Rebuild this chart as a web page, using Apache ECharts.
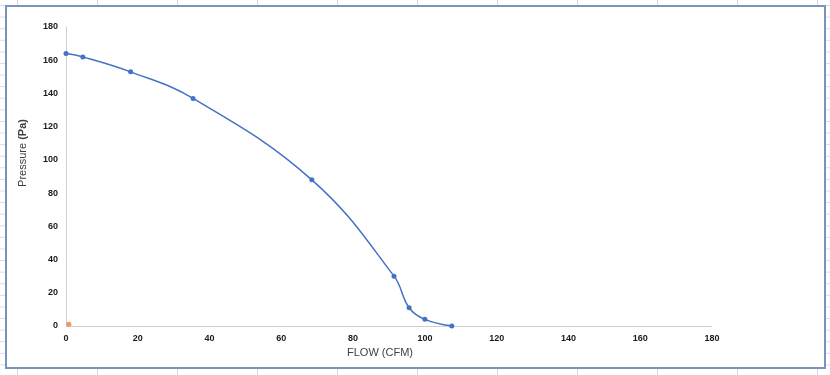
<!DOCTYPE html>
<html>
<head>
<meta charset="utf-8">
<script src="https://cdn.jsdelivr.net/npm/echarts@6/dist/echarts.min.js"></script>
<style>
  html, body { margin: 0; padding: 0; }
  body {
    width: 830px; height: 375px; overflow: hidden; position: relative;
    background-color: #ffffff;
    background-image:
      linear-gradient(to right, #d6d6d6 1px, transparent 1px),
      linear-gradient(to bottom, #dcdcdc 1px, transparent 1px);
    background-size: 80px 11.6px, 80px 11.6px;
    background-position: 17px 0, 0 5px;
  }
  #box {
    position: absolute; left: 5px; top: 5px; width: 821px; height: 364px;
    box-sizing: border-box; border: 2px solid #7a93bd; background: #ffffff;
  }
  #chart { position: absolute; left: 0; top: 0; width: 817px; height: 360px; }
</style>
</head>
<body>
<div id="box"><div id="chart"></div></div>
<script>
// Data
const flow = [0, 4.7, 18, 35.4, 68.5, 91.4, 95.6, 100, 107.5];
const pressure = [164, 162, 153, 137, 88, 30, 11, 4, 0];
const secondFlow = [0.8];
const secondPressure = [1];
const xTitle = 'FLOW (CFM)';
const yTitle = 'Pressure ';
const yTitleUnit = '(Pa)';

const chart = echarts.init(document.getElementById('chart'), null, { renderer: 'canvas' });
const labelStyle = { color: '#1a1a1a', fontFamily: 'Liberation Sans, Arial, sans-serif', fontSize: 9, fontWeight: 'bold' };
chart.setOption({
  animation: false,
  backgroundColor: 'transparent',
  grid: { left: 59, right: 112, top: 20, bottom: 41, containLabel: false },
  xAxis: {
    type: 'value', min: 0, max: 180, interval: 20,
    axisLine: { show: true, lineStyle: { color: '#d0d0d0', width: 1 } },
    axisTick: { show: false },
    splitLine: { show: false },
    axisLabel: Object.assign({ margin: 8 }, labelStyle),
    name: xTitle, nameLocation: 'middle', nameGap: 20,
    nameTextStyle: { color: '#404040', fontFamily: 'Liberation Sans, Arial, sans-serif', fontSize: 11, padding: [0, 18, 0, 0] }
  },
  yAxis: {
    type: 'value', min: 0, max: 180, interval: 20,
    axisLine: { show: true, lineStyle: { color: '#d0d0d0', width: 1 } },
    axisTick: { show: false },
    splitLine: { show: false },
    axisLabel: Object.assign({ margin: 8 }, labelStyle)
  },
  graphic: [{
    type: 'text',
    x: 16, y: 146,
    rotation: Math.PI / 2,
    style: {
      text: '{a|' + yTitle + '}{b|' + yTitleUnit + '}',
      rich: {
        a: { fill: '#404040', fontFamily: 'Liberation Sans, Arial, sans-serif', fontSize: 11 },
        b: { fill: '#404040', fontFamily: 'Liberation Sans, Arial, sans-serif', fontSize: 11, fontWeight: 'bold' }
      },
      align: 'center', verticalAlign: 'middle'
    }
  }],
  series: [{
    type: 'line',
    data: flow.map((f, i) => [f, pressure[i]]),
    smooth: 0.4,
    symbol: 'circle', symbolSize: 5,
    lineStyle: { color: '#4472c4', width: 1.5 },
    itemStyle: { color: '#4472c4' }
  }, {
    type: 'scatter',
    data: secondFlow.map((f, i) => [f, secondPressure[i]]),
    symbol: 'circle', symbolSize: 5,
    itemStyle: { color: '#ed7d31' }
  }]
});
</script>
</body>
</html>
